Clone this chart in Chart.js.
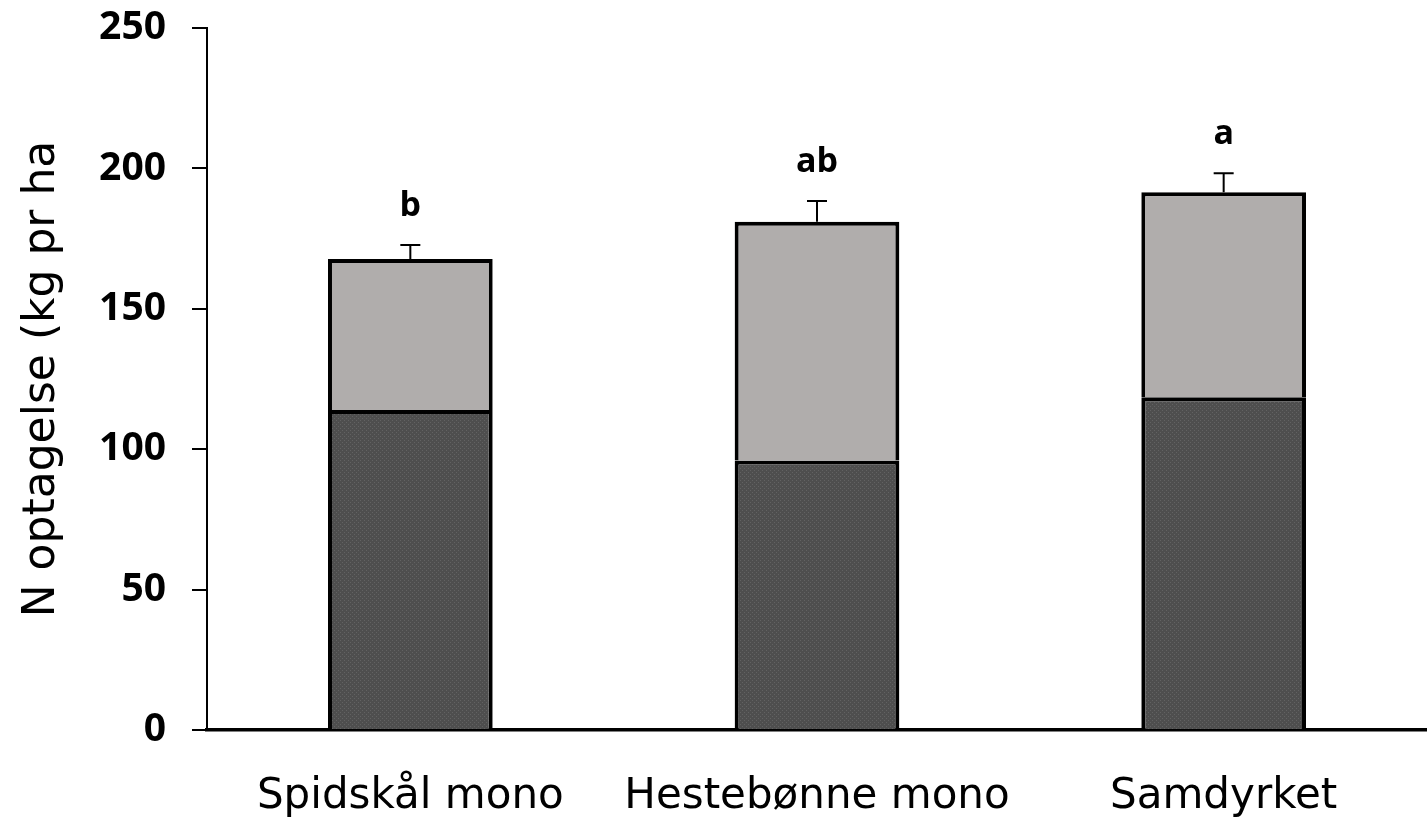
<!DOCTYPE html>
<html>
<head>
<meta charset="utf-8">
<script src="https://cdn.jsdelivr.net/npm/chart.js@4"></script>
<style>
  html, body { margin: 0; padding: 0; background: #fff; }
  #wrap { width: 1427px; height: 820px; }
</style>
</head>
<body>
<div id="wrap"><canvas id="chart"></canvas></div>
<script>
const categories = ['Spidskål mono', 'Hestebønne mono', 'Samdyrket'];
const lowerPart = [114, 96, 118.5];
const upperPart = [53.7, 85, 73];
const errorPlus = [5, 7.4, 6.8];
const letters = ['b', 'ab', 'a'];
const yTicks = [0, 50, 100, 150, 200, 250];

// stippled dark fill like the original
function stipple() {
    const c = document.createElement('canvas');
    c.width = 4; c.height = 4;
    const g = c.getContext('2d');
    g.fillStyle = '#4e4e4e';
    g.fillRect(0, 0, 4, 4);
    g.fillStyle = '#626262';
    g.fillRect(0, 0, 1, 1);
    g.fillRect(2, 2, 1, 1);
    return g.createPattern(c, 'repeat');
}

const errorBars = {
    id: 'errorBars',
    afterDatasetsDraw(chart) {
        const ctx = chart.ctx;
        const x = chart.scales.x, y = chart.scales.y;
        ctx.save();
        ctx.strokeStyle = '#000';
        ctx.lineWidth = 2;
        ctx.fillStyle = '#000';
        ctx.font = 'bold 34px "Open Sans"';
        ctx.textAlign = 'center';
        ctx.textBaseline = 'alphabetic';
        categories.forEach((c, i) => {
            const cx = x.getPixelForValue(i);
            const total = lowerPart[i] + upperPart[i];
            const top = y.getPixelForValue(total);
            const cap = y.getPixelForValue(total + errorPlus[i]);
            ctx.beginPath();
            ctx.moveTo(cx, top);
            ctx.lineTo(cx, cap);
            ctx.moveTo(cx - 10, cap);
            ctx.lineTo(cx + 10, cap);
            ctx.stroke();
            ctx.fillText(letters[i], cx, cap - 29);
        });
        ctx.restore();
    }
};

const ctx = document.getElementById('chart').getContext('2d');
new Chart(ctx, {
    type: 'bar',
    data: {
        labels: categories,
        datasets: [{
            data: lowerPart,
            backgroundColor: stipple(),
            borderColor: '#000',
            borderWidth: 4,
            borderSkipped: 'bottom'
        }, {
            data: upperPart,
            backgroundColor: '#b0adac',
            borderColor: '#000',
            borderWidth: 4,
            borderSkipped: 'bottom'
        }]
    },
    options: {
        responsive: true,
        maintainAspectRatio: false,
        animation: false,
        layout: { padding: { top: 28, right: 0, left: 0, bottom: 0 } },
        plugins: { legend: { display: false }, tooltip: { enabled: false } },
        datasets: { bar: { categoryPercentage: 1, barPercentage: 0.405 } },
        scales: {
            x: {
                stacked: true,
                grid: { display: false, drawTicks: false },
                border: { display: true, color: '#000', width: 3.5 },
                ticks: {
                    color: '#000',
                    padding: 42,
                    maxRotation: 0,
                    font: { family: 'DejaVu Sans', size: 42 }
                },
                afterFit(scale) {
                    scale.height = 90;
                    scale.paddingLeft = 0;
                    scale.paddingRight = 0;
                }
            },
            y: {
                stacked: true,
                min: 0,
                max: 250,
                afterBuildTicks(scale) { scale.ticks = yTicks.map(v => ({ value: v })); },
                grid: { drawOnChartArea: false, drawTicks: true, tickLength: 15, color: '#000', lineWidth: 2 },
                border: { display: true, color: '#000', width: 2 },
                ticks: {
                    color: '#000',
                    padding: 26,
                    font: { family: 'Open Sans', weight: 'bold', size: 39 }
                },
                title: {
                    display: true,
                    text: 'N optagelse (kg pr ha',
                    color: '#000',
                    padding: { top: 16, bottom: 0 },
                    font: { family: 'DejaVu Sans', size: 44 }
                },
                afterFit(scale) {
                    scale.width = 207;
                    scale.paddingTop = 0;
                    scale.paddingBottom = 0;
                }
            }
        }
    },
    plugins: [errorBars]
});
</script>
</body>
</html>
